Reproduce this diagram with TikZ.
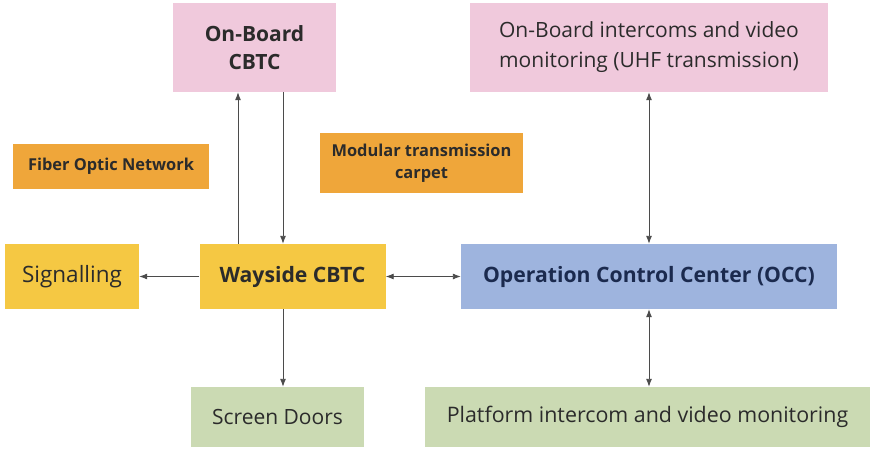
\documentclass[tikz,border=0pt]{standalone}
\usepackage{fontspec}
\setmainfont{Open Sans}
\usetikzlibrary{arrows.meta}
\definecolor{pinkbox}{HTML}{F0C9DC}
\definecolor{orangebox}{HTML}{EFA63A}
\definecolor{yellowbox}{HTML}{F5C843}
\definecolor{bluebox}{HTML}{9EB4DE}
\definecolor{greenbox}{HTML}{CBDAB3}
\definecolor{ink}{HTML}{2B2B2B}
\definecolor{navyink}{HTML}{1B2A4E}
\tikzset{
  box/.style={rectangle, inner sep=0pt, align=center, text=ink},
  arr/.style={draw=ink!85, line width=0.9pt, -{Latex[length=8pt,width=6pt]}},
  darr/.style={draw=ink!85, line width=0.9pt, {Latex[length=8pt,width=6pt]}-{Latex[length=8pt,width=6pt]}}
}
\begin{document}
\begin{tikzpicture}[x=1pt, y=-1pt]
\useasboundingbox[fill=white] (0,0) rectangle (872,451);

% top row
\node[box, fill=pinkbox, minimum width=163pt, minimum height=89pt, font=\fontsize{21}{28}\selectfont\bfseries]
  (obc) at (254.5,47.5) {On-Board\\CBTC};
\node[box, fill=pinkbox, minimum width=358pt, minimum height=89pt, font=\fontsize{21}{30}\selectfont]
  (obi) at (649,47.5) {On-Board intercoms and video\\monitoring (UHF transmission)};

% transmission media
\node[box, fill=orangebox, minimum width=196pt, minimum height=45pt, font=\fontsize{16.4}{19}\selectfont\bfseries]
  (fon) at (111,166) {Fiber Optic Network};
\node[box, fill=orangebox, minimum width=203pt, minimum height=60pt, font=\fontsize{16.4}{22}\selectfont\bfseries]
  (mtc) at (421.5,163) {Modular transmission\\carpet};

% middle row
\node[box, fill=yellowbox, minimum width=134pt, minimum height=65pt, font=\fontsize{22.5}{26}\selectfont]
  (sig) at (72,276.5) {Signalling};
\node[box, fill=yellowbox, minimum width=186pt, minimum height=65pt, font=\fontsize{21.2}{26}\selectfont\bfseries]
  (way) at (292.5,276.5) {Wayside CBTC};
\node[box, fill=bluebox, minimum width=376pt, minimum height=65pt, text=navyink, font=\fontsize{21.2}{26}\selectfont\bfseries]
  (occ) at (649,276.5) {Operation Control Center (OCC)};

% bottom row
\node[box, fill=greenbox, minimum width=173pt, minimum height=60pt, font=\fontsize{21}{26}\selectfont]
  (scd) at (277.5,417) {Screen Doors};
\node[box, fill=greenbox, minimum width=445pt, minimum height=60pt, font=\fontsize{21.4}{26}\selectfont]
  (plat) at (647.5,417) {Platform intercom and video monitoring};

% connectors
\draw[arr] ([xshift=-54.5]way.north) -- ([xshift=-16.5]obc.south);
\draw[arr] ([xshift=28.5]obc.south) -- ([xshift=-9.5]way.north);
\draw[arr] (way.west) -- (sig.east);
\draw[darr] (way.east) -- (occ.west);
\draw[darr] (occ.north) -- (occ.north |- obi.south);
\draw[darr] (occ.south) -- (occ.south |- plat.north);
\draw[arr] ([xshift=-9.5]way.south) -- ([xshift=5.5]scd.north);
\end{tikzpicture}
\end{document}
